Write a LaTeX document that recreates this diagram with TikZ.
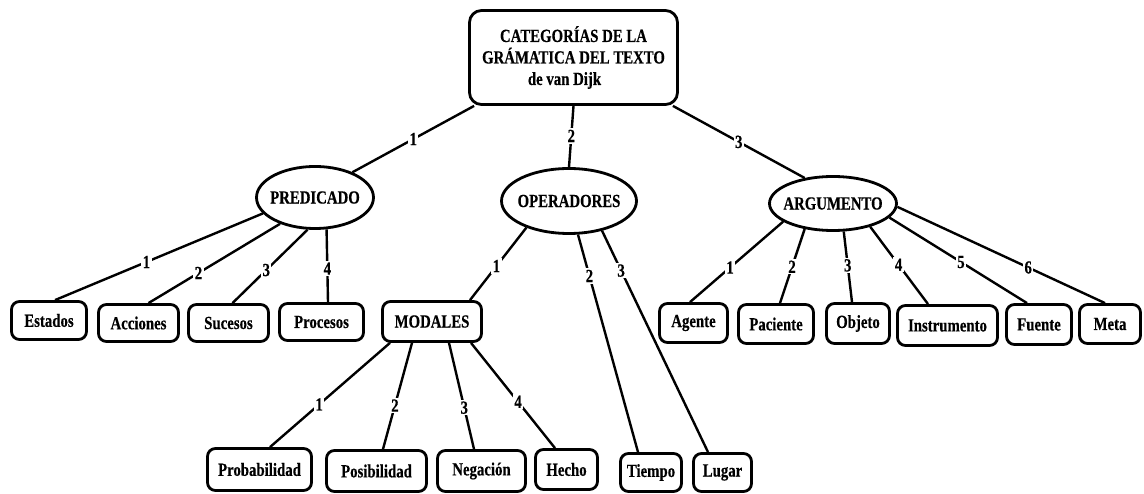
\documentclass[tikz,border=0pt]{standalone}
\usepackage{fontspec}
\setmainfont{Liberation Serif}[FakeStretch=0.8,BoldFeatures={FakeBold=0.4}]
\usetikzlibrary{shapes.geometric,calc}

% rounded box given its outer edges: name, x1, x2, y1, y2, text
\newcommand\catbox[6]{%
  \node[cat,minimum width={#3-#2-3},minimum height={#5-#4-3}] (#1)
    at ({(#2+#3)/2},{(#4+#5)/2}) {#6};}

\begin{document}
\begin{tikzpicture}[x=1pt,y=-1pt,
  every node/.style={font=\fontsize{18.5}{21.5}\selectfont\bfseries},
  cat/.style={draw,line width=2.8pt,rounded corners=8pt,inner sep=0pt},
  oval/.style={draw,ellipse,line width=2.8pt,inner sep=0pt},
  link/.style={line width=2.4pt},
  num/.style={fill=white,inner sep=1.5pt}]

\useasboundingbox (0,0) rectangle (1144,494);

% title
\node[cat,rounded corners=12pt,minimum width=208,minimum height=94,align=center]
  (title) at (573.5,57.5)
  {CATEGORÍAS DE LA\\GRÁMATICA DEL TEXTO\\de van Dijk\hspace*{18pt}};

% the three categories
\node[oval,minimum width=117,minimum height=62] (pred) at (315,197.5) {\makebox[0pt]{PREDICADO}};
\node[oval,minimum width=135,minimum height=65] (oper) at (569,201) {\makebox[0pt]{OPERADORES}};
\node[oval,minimum width=127,minimum height=54] (arg)  at (833,203.5) {\makebox[0pt]{ARGUMENTO}};

% predicate types
\catbox{estados}{10}{88}{300}{341}{Estados}
\catbox{acciones}{97}{180}{303}{343}{Acciones}
\catbox{sucesos}{187}{270}{303}{343}{Sucesos}
\catbox{procesos}{278}{365}{302}{342}{Procesos}

% operators
\catbox{modales}{381}{483}{300}{343}{MODALES}
\catbox{tiempo}{619}{683}{452}{493}{Tiempo}
\catbox{lugar}{692}{753}{452}{493}{Lugar}

% modal operators
\catbox{probab}{206}{313}{447}{492}{Probabilidad}
\catbox{posib}{325}{428}{449}{493}{Posibilidad}
\catbox{negacion}{436}{527}{449}{493}{Negación}
\catbox{hecho}{534}{599}{448}{491}{Hecho}

% argument roles
\catbox{agente}{658}{729}{302}{344}{Agente}
\catbox{paciente}{737}{815}{303}{345}{Paciente}
\catbox{objeto}{825}{891}{302}{345}{Objeto}
\catbox{instrumento}{896}{999}{304}{347}{Instrumento}
\catbox{fuente}{1005}{1073}{303}{346}{Fuente}
\catbox{meta}{1078}{1142}{303}{345}{Meta}

% title to categories
\draw[link] ([xshift=6pt]title.south west) -- node[num,pos=.5]{1} (pred.34);
\draw[link] (title.south) -- node[num,pos=.49]{2} (oper.north);
\draw[link] ([xshift=-6pt]title.south east) -- node[num,pos=.5]{3} (arg.138);

% predicate branches
\draw[link] (pred.197) -- node[num,pos=.56]{1} ([xshift=6pt]estados.north);
\draw[link] (pred.217) -- node[num,pos=.62]{2} ([xshift=10pt]acciones.north);
\draw[link] (pred.257) -- node[num,pos=.55]{3} ([xshift=4pt]sucesos.north);
\draw[link] (pred.290) -- node[num,pos=.54]{4} ([xshift=6.5pt]procesos.north);

% operator branches
\draw[link] (oper.212) -- node[num,pos=.53]{1} ([xshift=38pt]modales.north);
\draw[link] (oper.285) -- node[num,pos=.19]{2} ([xshift=-13pt]tiempo.north);
\draw[link] (oper.318) -- node[num,pos=.18]{3} ([xshift=-14.5pt]lugar.north);

% modal branches
\draw[link] ([xshift=-42pt]modales.south) -- node[num,pos=.59]{1} ([xshift=10.5pt]probab.north);
\draw[link] ([xshift=-20pt]modales.south) -- node[num,pos=.59]{2} ([xshift=6.5pt]posib.north);
\draw[link] ([xshift=17pt]modales.south) -- node[num,pos=.61]{3} ([xshift=-7.5pt]negacion.north);
\draw[link] ([xshift=39pt]modales.south) -- node[num,pos=.56]{4} ([xshift=-11.5pt]hecho.north);

% argument branches
\draw[link] (arg.200) -- node[num,pos=.57]{1} ([xshift=-3.5pt]agente.north);
\draw[link] (arg.222) -- node[num,pos=.51]{2} ([xshift=4pt]paciente.north);
\draw[link] (arg.291) -- node[num,pos=.48]{3} ([xshift=-6pt]objeto.north);
\draw[link] (arg.328) -- node[num,pos=.49]{4} ([xshift=-19.5pt]instrumento.north);
\draw[link] (arg.346) -- node[num,pos=.52]{5} ([xshift=-12pt]fuente.north);
\draw[link] (arg.357) -- node[num,pos=.63]{6} ([xshift=-5pt]meta.north);

\end{tikzpicture}
\end{document}
